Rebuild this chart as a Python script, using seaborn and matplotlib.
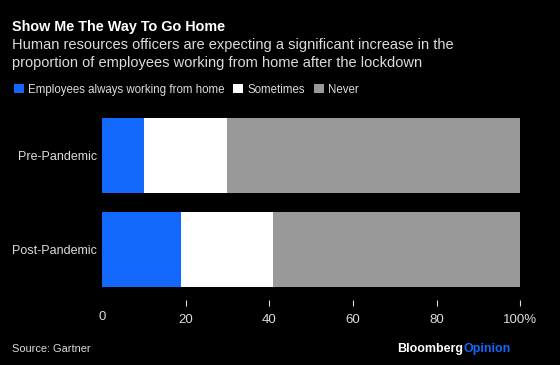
import pandas as pd
import matplotlib.pyplot as plt
import seaborn as sns
from matplotlib.patches import Patch


# ==========================================
# Data
# ==========================================

periods = ["Pre-Pandemic", "Post-Pandemic"]

always = [10, 19]
sometimes = [20, 22]
never = [70, 59]

series_names = ["Employees always working from home", "Sometimes", "Never"]
x_ticks = [20, 40, 60, 80, 100]
x_tick_labels = ["20", "40", "60", "80", "100%"]

BLUE = "#1268fb"
WHITE = "#ffffff"
GREY = "#999999"
TEXT = "#dcdcdc"


df = pd.DataFrame({
    "period": periods,
    "always": always,
    "sometimes": sometimes,
    "never": never,
})

# cumulative ends for stacking
df["end_always"] = df["always"]
df["end_sometimes"] = df["always"] + df["sometimes"]
df["end_never"] = df["end_sometimes"] + df["never"]


# ==========================================
# Figure
# ==========================================

sns.set_theme(style="dark")
plt.rcParams["font.family"] = ["Liberation Sans", "DejaVu Sans"]

fig = plt.figure(figsize=(5.6, 3.65), dpi=100, facecolor="black")
ax = fig.add_axes([0.182, 0.178, 0.747, 0.525], facecolor="black")

# draw from the longest to the shortest so they overlap as a stack
for col, color in [("end_never", GREY), ("end_sometimes", WHITE), ("end_always", BLUE)]:
    sns.barplot(
        data=df,
        x=col,
        y="period",
        order=periods,
        color=color,
        width=0.8,
        saturation=1,
        linewidth=0,
        ax=ax,
    )

ax.set_xlim(0, 100)
ax.set_ylim(1.537, -0.5)

ax.set_xticks(x_ticks)
ax.set_xticklabels(x_tick_labels)
ax.tick_params(axis="x", colors=TEXT, labelcolor=TEXT, labelsize=9.5,
               length=4, width=0.8, direction="out", pad=6, bottom=True)
ax.tick_params(axis="y", colors=TEXT, labelcolor=TEXT, labelsize=9,
               length=0, pad=3.5)

# the "0" label at the origin without a tick mark
ax.text(0, -0.058, "0", transform=ax.get_xaxis_transform(),
        ha="center", va="top", color=TEXT, fontsize=9.5)

ax.set_xlabel("")
ax.set_ylabel("")
ax.grid(False)
for s in ax.spines.values():
    s.set_visible(False)


# ==========================================
# Titles, legend, footer
# ==========================================

fig.text(0.021, 0.926, "Show Me The Way To Go Home", color="white",
         fontsize=10.4, fontweight="bold", va="center", ha="left")

fig.text(0.021, 0.877,
         "Human resources officers are expecting a significant increase in the",
         color=TEXT, fontsize=10.5, va="center", ha="left")
fig.text(0.021, 0.827,
         "proportion of employees working from home after the lockdown",
         color=TEXT, fontsize=10.5, va="center", ha="left")

handles = [
    Patch(facecolor=BLUE, edgecolor="none"),
    Patch(facecolor=WHITE, edgecolor="none"),
    Patch(facecolor=GREY, edgecolor="none"),
]

fig.legend(
    handles,
    series_names,
    loc="center left",
    bbox_to_anchor=(0.006, 0.754),
    ncol=3,
    frameon=False,
    fontsize=8.3,
    labelcolor=TEXT,
    handlelength=0.85,
    handleheight=0.85,
    handletextpad=0.35,
    columnspacing=0.8,
)

fig.text(0.021, 0.044, "Source: Gartner", color=TEXT,
         fontsize=7.9, va="center", ha="left")

fig.text(0.827, 0.044, "Bloomberg", color="white",
         fontsize=9, fontweight="bold", va="center", ha="right")
fig.text(0.827, 0.044, "Opinion", color=BLUE,
         fontsize=9, fontweight="bold", va="center", ha="left")


fig.savefig("out.png", dpi=100, facecolor="black")
